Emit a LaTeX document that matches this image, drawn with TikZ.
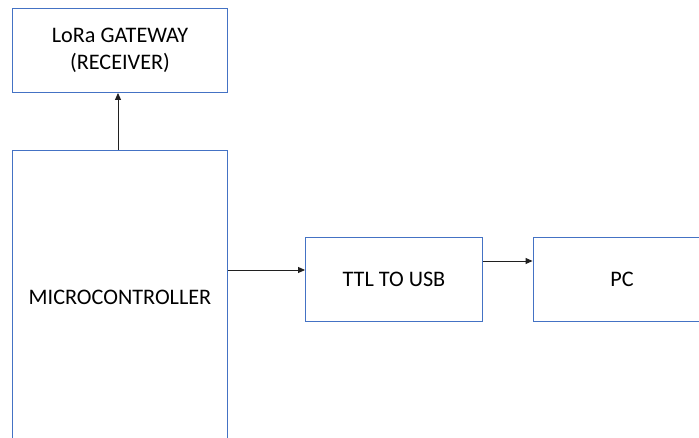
\documentclass[tikz,border=0pt]{standalone}
\usepackage{fontspec}
\setmainfont{Carlito}
\usetikzlibrary{arrows.meta}
\definecolor{boxblue}{HTML}{4472C4}
\definecolor{arrgray}{HTML}{202020}
\begin{document}
\begin{tikzpicture}[x=1pt,y=-1pt,
  blk/.style={draw=boxblue,line width=0.9pt,fill=white,inner sep=0pt,font=\fontsize{22.2}{26.5}\selectfont,align=center},
  arr/.style={draw=arrgray,line width=0.9pt,-{Triangle[length=7pt,width=6pt]}}]
\useasboundingbox (0,0) rectangle (699,438);
\clip (0,0) rectangle (699,438);
\fill[white] (0,0) rectangle (699,438);
\node[blk,minimum width=215pt,minimum height=84pt] (gw) at (120,50.5) {LoRa GATEWAY\\(RECEIVER)};
\node[blk,minimum width=215pt,minimum height=295pt] (micro) at (120,297.5) {MICROCONTROLLER};
\node[blk,minimum width=177pt,minimum height=84.5pt] (ttl) at (394,279.7) {TTL TO USB};
\node[blk,minimum width=178pt,minimum height=84.5pt] (pc) at (622,279.7) {PC};
\draw[arr] ([xshift=-2pt]micro.north) -- ([xshift=-2pt]gw.south);
\coordinate (a1) at ([yshift=9.7pt]ttl.west);
\draw[arr] (micro.east |- a1) -- (a1);
\coordinate (a2) at ([yshift=18.7pt]ttl.east);
\draw[arr] (a2) -- (pc.west |- a2);
\end{tikzpicture}
\end{document}
